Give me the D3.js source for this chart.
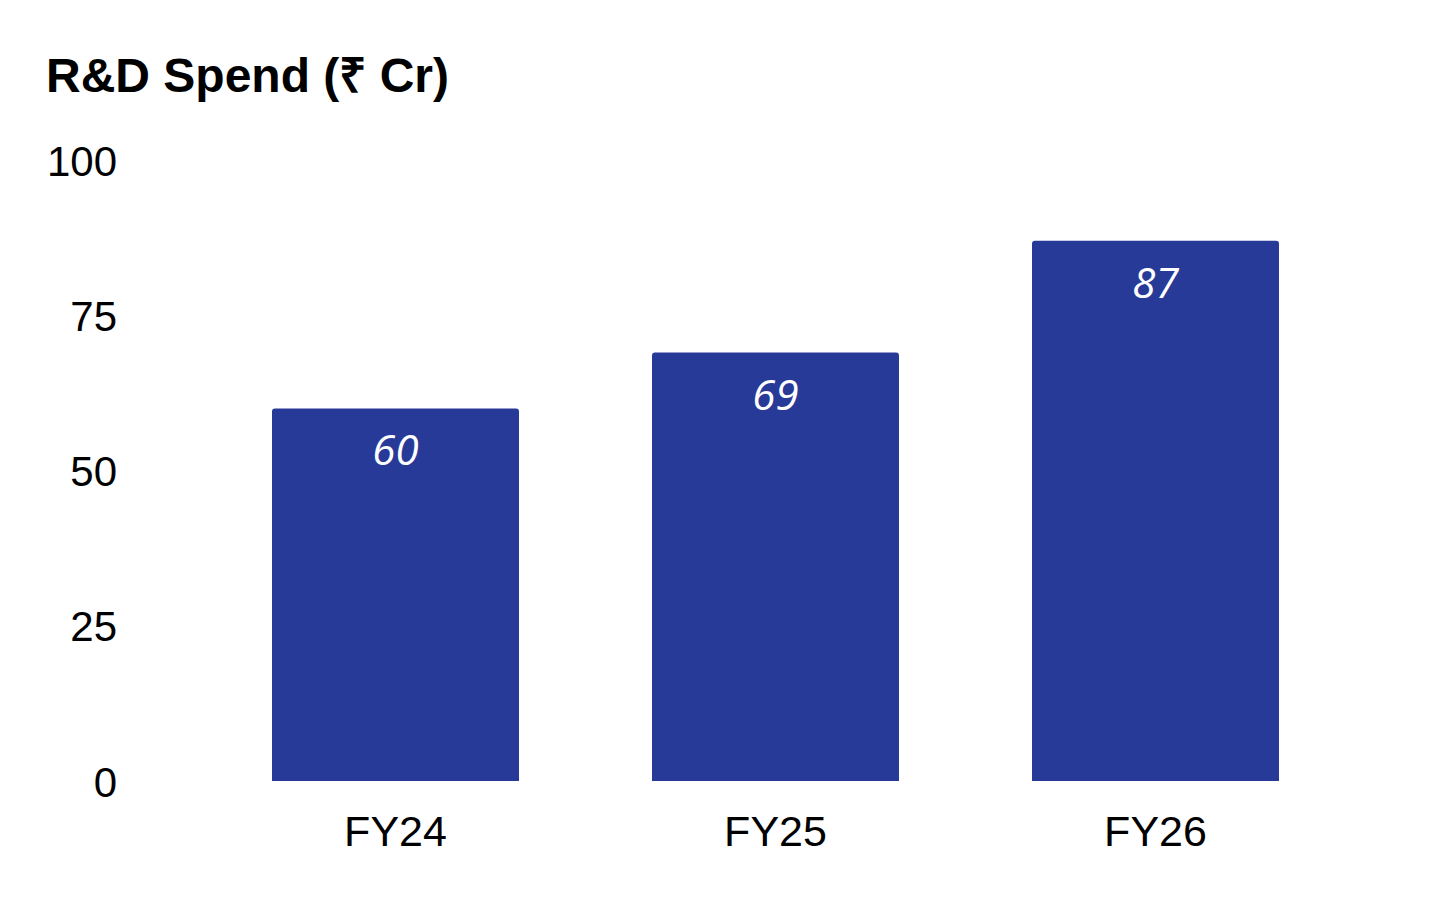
<!DOCTYPE html>
<html>
<head>
<meta charset="utf-8">
<script src="https://cdn.jsdelivr.net/npm/d3@7"></script>
<style>
  html, body { margin: 0; padding: 0; background: #fff; }
</style>
</head>
<body>
<div id="chart"></div>
<script>
// chart data
const categories = ["FY24", "FY25", "FY26"];
const spend = [60, 69, 87];
const yTicks = [0, 25, 50, 75, 100];
const title = "R&D Spend (₹ Cr)";

const width = 1456, height = 901;
const barColor = "#283a97";

const svg = d3.select("#chart")
    .append("svg")
    .attr("width", width)
    .attr("height", height)
    .style("background-color", "#fff");

// scales
const x = d3.scaleBand()
    .domain(categories)
    .range([205.5, 1345.5])
    .paddingInner(0.35)
    .paddingOuter(0.175);

const y = d3.scaleLinear()
    .domain([0, 100])
    .range([781, 160]);

// title
svg.append("text")
    .attr("x", 46)
    .attr("y", 92)
    .attr("font-family", "'Liberation Sans', Arial, sans-serif")
    .attr("font-weight", "bold")
    .attr("font-size", "48px")
    .attr("fill", "#000")
    .text(title);

// y axis labels (no line, no ticks)
const yAxis = d3.axisLeft(y)
    .tickValues(yTicks)
    .tickSize(0)
    .tickPadding(0);

const yg = svg.append("g")
    .attr("transform", "translate(117,0)")
    .call(yAxis);
yg.select(".domain").remove();
yg.selectAll("text")
    .attr("font-family", "'Liberation Sans', Arial, sans-serif")
    .attr("font-size", "42px")
    .attr("fill", "#000")
    .attr("dy", "0.36em");

// x axis labels
const xAxis = d3.axisBottom(x).tickSize(0).tickPadding(0);
const xg = svg.append("g")
    .attr("transform", "translate(0,781)")
    .call(xAxis);
xg.select(".domain").remove();
xg.selectAll("text")
    .attr("font-family", "'Liberation Sans', Arial, sans-serif")
    .attr("font-size", "43px")
    .attr("fill", "#000")
    .attr("dy", "65px");

// bars with slightly rounded top corners
const r = 3;
function barPath(d, i) {
    const x0 = x(categories[i]);
    const w = x.bandwidth();
    const top = y(d);
    const bottom = y(0);
    return `M${x0},${bottom}V${top + r}Q${x0},${top} ${x0 + r},${top}` +
        `H${x0 + w - r}Q${x0 + w},${top} ${x0 + w},${top + r}V${bottom}Z`;
}

svg.append("g")
    .selectAll("path")
    .data(spend)
    .join("path")
    .attr("d", barPath)
    .attr("fill", barColor);

// value labels inside bars
svg.append("g")
    .selectAll("text")
    .data(spend)
    .join("text")
    .attr("x", (d, i) => x(categories[i]) + x.bandwidth() / 2)
    .attr("y", d => y(d) + 57)
    .attr("text-anchor", "middle")
    .attr("font-family", "'Open Sans', 'Noto Sans', sans-serif")
    .attr("font-style", "italic")
    .attr("font-size", "42px")
    .attr("fill", "#fff")
    .text(d => d);
</script>
</body>
</html>
